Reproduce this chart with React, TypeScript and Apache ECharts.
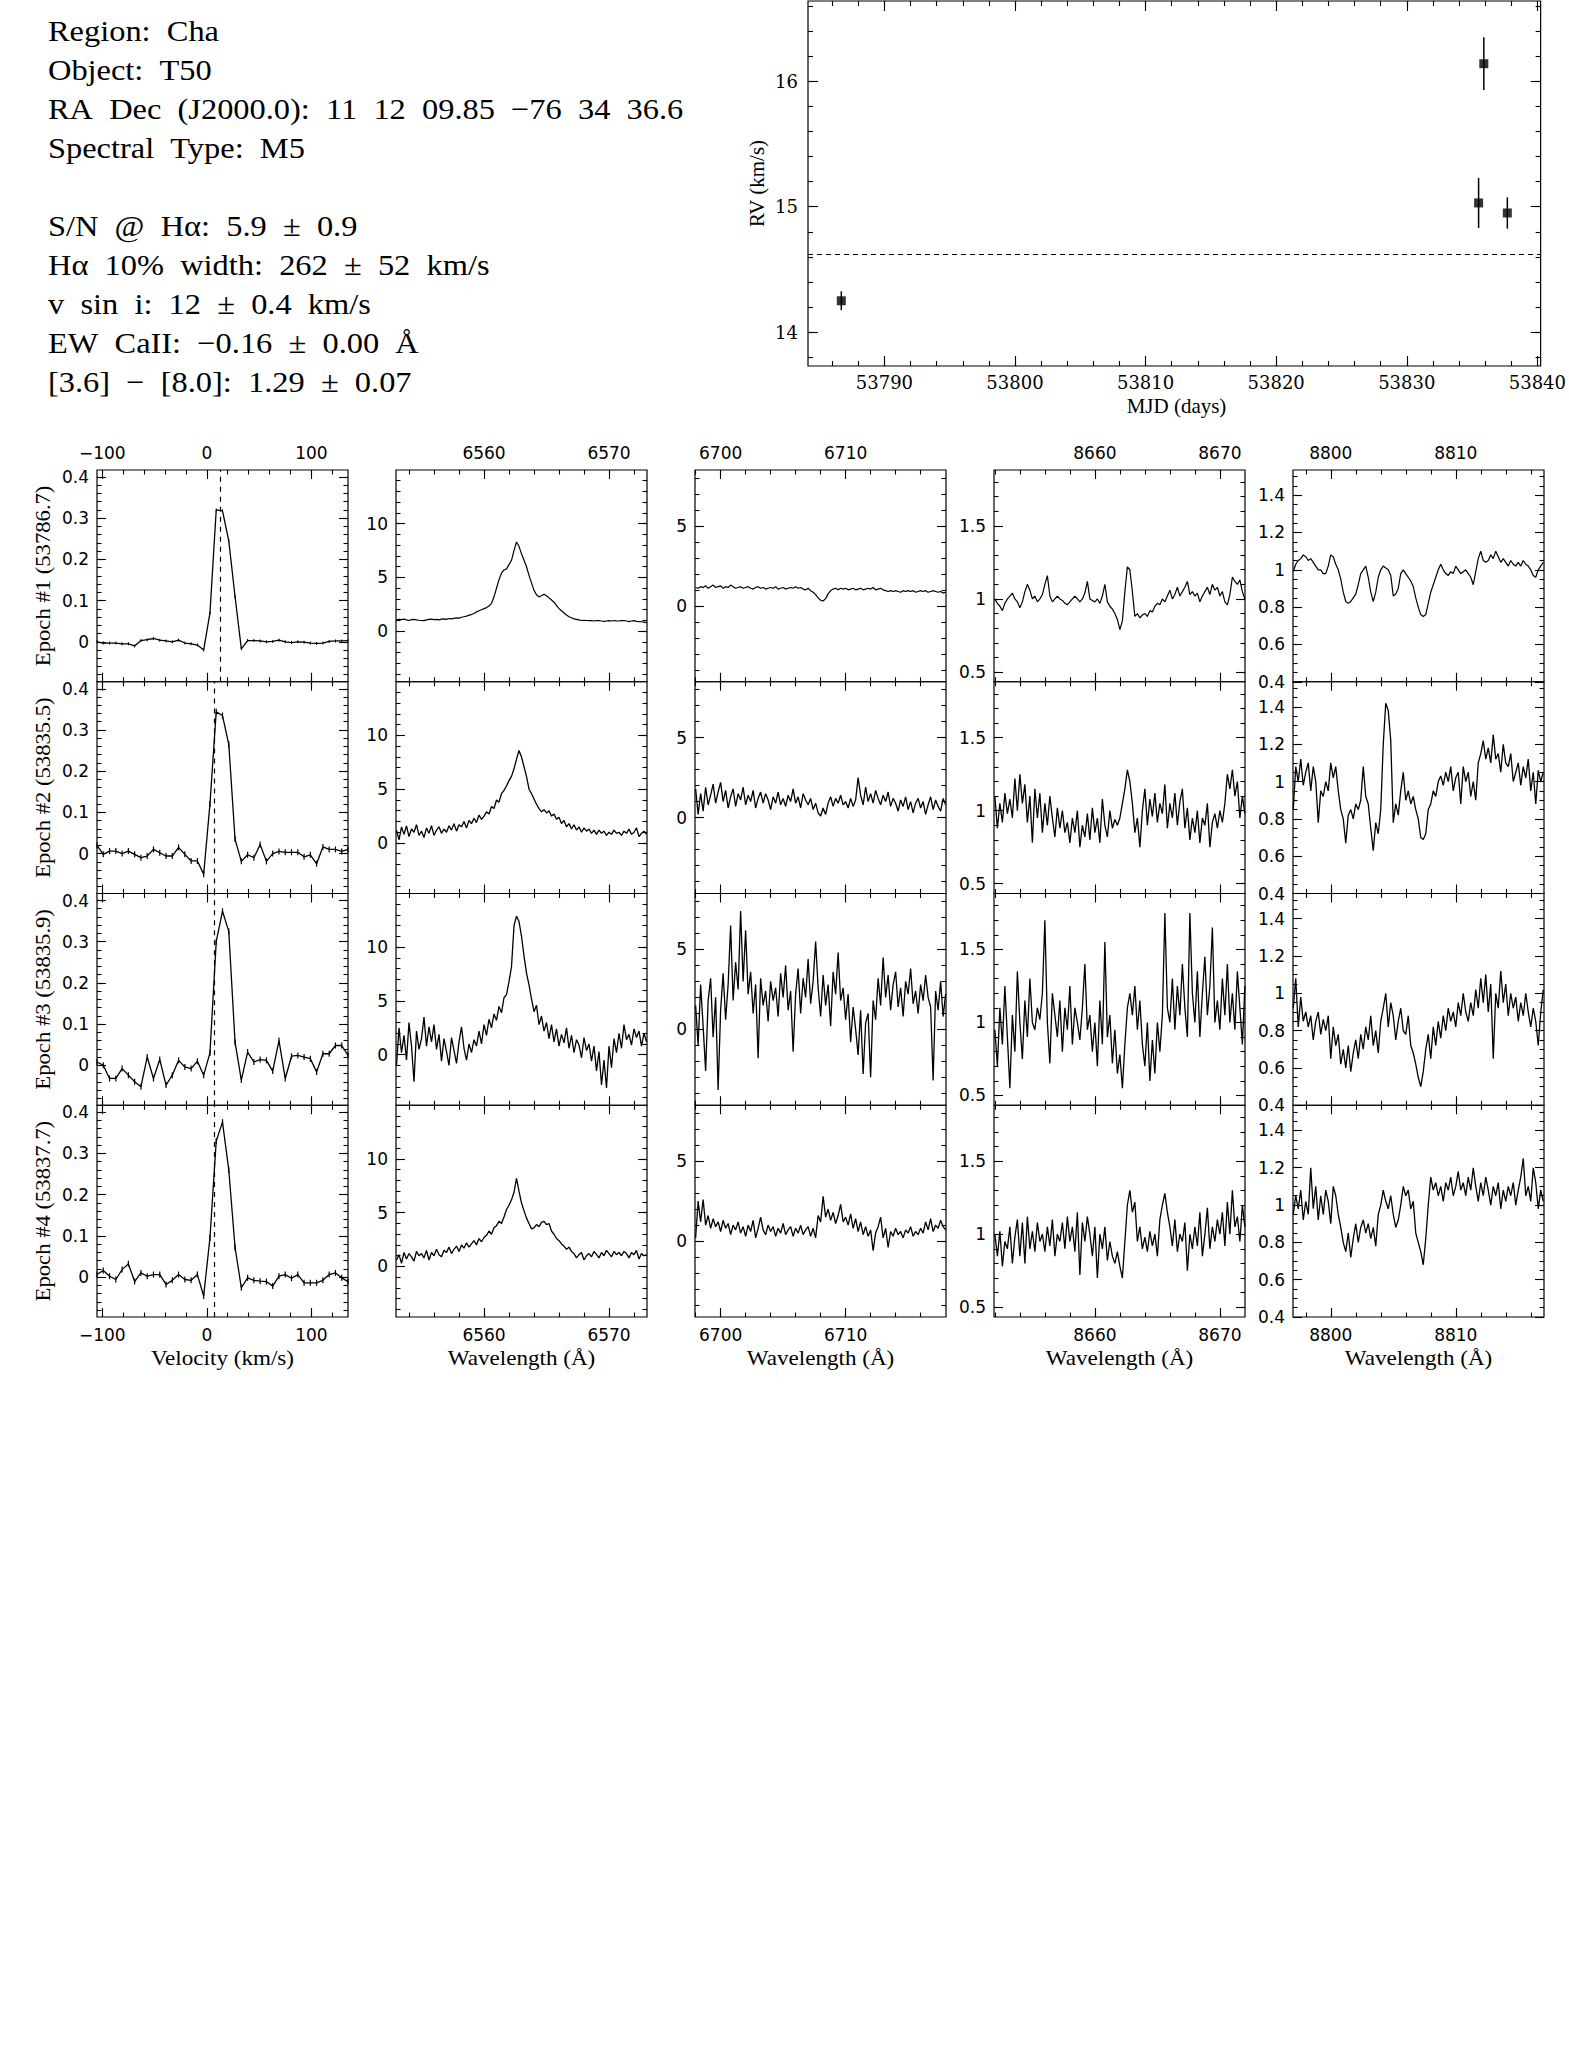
import React, { useEffect, useRef } from 'react';
import * as echarts from 'echarts';

// ---------------- header text ----------------
const INFO_LINES = [
  'Region: Cha',
  'Object: T50',
  'RA Dec (J2000.0): 11 12 09.85 \u221276 34 36.6',
  'Spectral Type: M5',
  '',
  'S/N @ H\u03b1: 5.9 \u00b1 0.9',
  'H\u03b1 10% width: 262 \u00b1 52 km/s',
  'v sin i: 12 \u00b1 0.4 km/s',
  'EW CaII: \u22120.16 \u00b1 0.00 \u00c5',
  '[3.6] \u2212 [8.0]: 1.29 \u00b1 0.07',
];

// ---------------- RV panel ----------------
const RV_MJD = [53786.7, 53835.5, 53835.9, 53837.7];
const RV_KMS = [14.25, 15.03, 16.14, 14.95];
const RV_ERR = [0.075, 0.2, 0.21, 0.125];
const RV_MEAN = 14.62;
const RV_X_TICKS = [53790, 53800, 53810, 53820, 53830, 53840];
const RV_Y_TICKS = [14, 15, 16];

// ---------------- epochs ----------------
const EPOCH_LABELS = ['Epoch #1 (53786.7)', 'Epoch #2 (53835.5)', 'Epoch #3 (53835.9)', 'Epoch #4 (53837.7)'];

// velocity profile (column 1)
const VELOCITY = [-105, -99, -93, -87, -81, -75, -69, -63, -57, -51, -45, -39, -33, -27, -21, -15, -9, -3, 3, 9, 15,
  21, 27, 33, 39, 45, 51, 57, 63, 69, 75, 81, 87, 93, 99, 105, 111, 117, 123, 129, 135];
const CCF_1 = [0.0, -0.003, -0.003, -0.003, -0.005, -0.005, -0.01, 0.003, 0.005, 0.008, 0.004, 0.002, 0.0, 0.004, -0.003,
  -0.005, -0.008, -0.02, 0.07, 0.32, 0.318, 0.245, 0.11, -0.017, 0.003, 0.003, 0.002, 0.0, 0.001, 0.004, 0.0, -0.002, 0.0,
  -0.001, -0.003, -0.004, -0.003, 0.001, 0.002, 0.002, 0.003];
const CCF_2 = [0.02, -0.002, 0.006, 0.006, 0.0, 0.006, -0.002, -0.01, -0.006, 0.01, 0.002, -0.006, -0.006, 0.015, -0.002,
  -0.018, -0.018, -0.05, 0.12, 0.344, 0.335, 0.265, 0.035, -0.019, -0.003, -0.01, 0.022, -0.019, 0.0, 0.005, 0.003, 0.003,
  0.003, -0.008, -0.003, -0.025, 0.016, 0.01, 0.01, 0.005, 0.01];
const CCF_3 = [0.008, 0.0, -0.032, -0.032, -0.008, -0.024, -0.04, -0.052, 0.02, -0.032, 0.014, -0.048, -0.024, 0.012,
  -0.004, -0.008, 0.01, -0.024, 0.03, 0.3, 0.374, 0.325, 0.056, -0.036, 0.032, 0.008, 0.014, 0.012, -0.014, 0.06, -0.032,
  0.022, 0.024, 0.02, 0.016, -0.016, 0.028, 0.028, 0.048, 0.048, 0.024];
const CCF_4 = [0.006, 0.016, 0.002, -0.006, 0.018, 0.032, -0.011, 0.01, 0.002, 0.006, 0.006, -0.018, -0.008, 0.006,
  -0.006, -0.008, 0.006, -0.046, 0.095, 0.33, 0.376, 0.26, 0.072, -0.026, -0.002, -0.008, -0.01, -0.011, -0.022, 0.002,
  0.006, -0.003, 0.006, -0.014, -0.014, -0.014, -0.008, 0.006, 0.01, -0.002, -0.011];
const CCF_CENTER = [12.5, 7.4, 7.4, 6.8];

// spectra: linear dispersion, start wavelength per window
const WL_START = [6553, 6698, 8652, 8797];
const WL_STEP = 0.2;

const HA_1 = [1.05, 1.1, 1.08, 1.12, 1.05, 1.0, 1.08, 1.1, 1.05, 1.02,
  1.0, 0.98, 1.05, 1.1, 1.12, 1.08, 1.1, 1.05, 1.12, 1.15,
  1.1, 1.18, 1.15, 1.2, 1.25, 1.22, 1.3, 1.35, 1.4, 1.5,
  1.55, 1.65, 1.8, 1.9, 2.0, 2.1, 2.2, 2.35, 2.6, 3.2,
  4.0, 4.8, 5.4, 5.7, 5.8, 6.2, 6.6, 7.5, 8.3, 7.9,
  7.2, 6.6, 6.0, 5.2, 4.5, 3.8, 3.4, 3.2, 3.3, 3.45,
  3.3, 3.1, 2.9, 2.7, 2.4, 2.1, 1.9, 1.7, 1.5, 1.35,
  1.25, 1.15, 1.1, 1.05, 1.0, 1.02, 1.0, 0.98, 1.0, 0.95,
  0.98, 1.0, 0.95, 0.92, 0.95, 0.98, 0.95, 1.0, 0.97, 0.95,
  0.98, 1.0, 0.95, 0.9, 0.95, 0.98, 0.92, 0.9, 0.88, 0.85, 0.8];
const HA_2 = [1.2, 0.3, 1.5, 0.8, 1.6, 0.6, 1.3, 1.0, 1.7, 0.7,
  1.1, 0.5, 1.4, 0.9, 1.6, 0.7, 1.2, 1.5, 0.9, 1.3,
  1.0, 1.6, 1.2, 1.8, 1.1, 1.7, 1.5, 2.0, 1.4, 2.1,
  1.8, 2.3, 1.9, 2.6, 2.2, 2.5, 2.9, 2.7, 3.4, 3.2,
  4.0, 3.8, 4.6, 4.9, 5.3, 5.8, 6.2, 6.9, 7.8, 8.6,
  8.0, 7.1, 6.2, 5.0, 4.6, 4.1, 3.6, 3.2, 2.9, 3.1,
  2.8, 3.0, 2.5, 2.7, 2.2, 2.4, 1.8, 2.1, 1.5, 1.8,
  1.3, 1.7, 1.2, 1.5, 1.0, 1.4, 1.1, 1.3, 0.9, 1.2,
  0.8, 1.2, 0.9, 1.1, 0.7, 1.0, 0.8, 1.2, 0.9, 1.0,
  0.7, 1.1, 0.9, 1.3, 0.8, 1.0, 1.4, 0.6, 0.9, 1.1, 0.8];
const HA_3 = [-1.0, 2.5, 0.2, 1.8, -0.5, 3.0, 0.8, -2.5, 2.2, 0.5,
  1.5, 3.5, 0.8, 2.6, 1.2, 2.8, 0.5, 1.9, -0.6, 1.5,
  0.3, -1.0, 1.6, 0.4, -0.8, 1.2, 2.6, 0.6, -0.5, 1.0,
  0.2, 1.4, 0.8, 2.2, 1.0, 2.8, 1.8, 3.3, 2.5, 3.8,
  3.2, 4.5, 3.9, 5.3, 5.6, 6.8, 8.2, 12.0, 12.9, 12.4,
  11.0, 9.2, 7.6, 6.5, 5.2, 4.0, 4.6, 2.8, 3.6, 2.2,
  3.0, 1.5, 2.8, 1.2, 2.4, 0.8, 1.9, 1.1, 2.5, 0.6,
  1.8, 0.2, 1.4, 0.9, -0.3, 1.6, 0.4, 1.0, -0.6, 0.8,
  -1.5, 0.3, -2.8, -0.5, -3.1, 0.8, -1.2, 1.5, 0.2, 2.0,
  0.6, 2.8, 1.4, 1.9, 0.9, 2.4, 1.6, 2.2, 0.8, 2.0, 1.2];
const HA_4 = [0.6, 1.1, 0.3, 1.3, 0.7, 1.2, 0.9, 0.5, 1.4, 1.0,
  1.2, 0.8, 1.5, 0.6, 1.3, 1.0, 1.6, 1.1, 0.9, 1.5,
  1.3, 1.8, 1.2, 1.6, 1.9, 1.4, 2.0, 1.7, 2.2, 1.8,
  2.1, 2.4, 2.0, 2.6, 2.3, 2.7, 2.9, 3.3, 3.0, 3.6,
  3.8, 4.2, 4.0, 4.6, 5.3, 5.7, 6.2, 6.9, 8.2, 7.0,
  5.9, 5.2, 4.5, 4.0, 3.5, 3.6, 3.9, 3.7, 4.1, 4.2,
  3.9, 4.0, 3.3, 3.0, 2.6, 2.4, 2.1, 1.9, 1.6, 1.8,
  1.4, 1.2, 0.8, 1.1, 1.3, 0.6, 1.0, 1.2, 0.9, 1.4,
  1.1, 0.8, 1.3, 1.0, 1.5, 1.2, 0.9, 1.4, 1.1, 1.3,
  1.0, 1.4, 1.2, 0.8, 1.3, 1.1, 1.5, 0.7, 1.2, 1.0, 1.1];

const LI_1 = [1.15, 1.1, 1.2, 1.15, 1.25, 1.1, 1.2, 1.3, 1.15, 1.2,
  1.25, 1.1, 1.2, 1.15, 1.3, 1.2, 1.1, 1.15, 1.2, 1.1,
  1.15, 1.2, 1.1, 1.05, 1.15, 1.2, 1.1, 1.15, 1.05, 1.1,
  1.15, 1.1, 1.2, 1.05, 1.1, 1.15, 1.05, 1.1, 1.15, 1.1,
  1.2, 1.1, 1.15, 1.05, 1.0, 1.1, 0.95, 0.85, 0.7, 0.5,
  0.35, 0.3, 0.45, 0.75, 0.95, 1.05, 1.1, 1.0, 1.1, 1.05,
  1.1, 1.0, 1.05, 1.1, 1.0, 1.05, 1.1, 1.0, 1.05, 1.1,
  1.05, 1.15, 1.0, 1.05, 1.1, 1.0, 0.95, 0.9, 0.95, 0.9,
  0.95, 0.9, 0.85, 0.95, 0.9, 0.95, 0.9, 0.95, 0.85, 0.9,
  0.95, 0.9, 0.95, 0.85, 0.9, 0.95, 0.9, 0.85, 0.9, 0.8, 0.85];
const LI_2 = [1.8, 0.2, 1.5, 0.4, 1.9, 0.8, 1.4, 2.1, 0.9, 1.6,
  2.2, 1.0, 1.7, 0.6, 1.3, 1.8, 0.7, 1.5, 1.1, 1.9,
  0.8, 1.4, 1.0, 1.7, 0.6, 1.2, 1.6, 0.9, 1.5, 1.1,
  0.5, 1.3, 0.9, 1.6, 0.8, 1.2, 0.7, 1.4, 1.0, 1.8,
  0.9, 1.3, 0.6, 1.5, 1.1, 0.8, 1.2, 0.5, 0.9, 0.3,
  0.1, 0.6, 0.2, 0.9, 1.3, 0.7, 1.2, 0.9, 1.4, 0.8,
  1.0, 0.6, 1.2, 0.7, 1.1, 2.5, 1.4, 0.8, 1.9, 1.0,
  1.5, 0.9, 1.7, 1.2, 0.8, 1.4, 1.0, 1.6, 0.7, 1.2,
  0.9, 0.4, 1.1, 0.7, 1.3, 0.5, 1.0, 0.3, 0.9, 1.2,
  0.6, 1.0, 0.2, 0.8, 1.3, 0.5, 1.1, 0.7, 0.4, 1.2, 0.8];
const LI_3 = [1.5, -1.0, 2.8, 0.2, -2.6, 1.8, 3.2, -0.5, 2.0, -3.8,
  1.2, 3.5, 0.6, 2.8, 6.5, 1.8, 4.2, 2.5, 7.4, 3.0,
  6.2, 2.2, 3.6, 1.0, 2.8, -1.8, 3.2, 1.5, 2.4, 0.5,
  3.0, 1.8, 2.6, 0.8, 3.5, 2.0, 4.0, 1.2, 2.4, -1.4,
  2.2, 3.8, 1.0, 3.2, 2.0, 4.4, 1.6, 3.0, 5.5, 2.6,
  0.8, 3.4, 1.5, 2.8, 0.2, 3.6, 2.2, 4.8, 1.8, 2.6,
  0.6, 2.2, -0.8, 1.4, 0.0, -1.6, 1.2, -2.8, 0.4, 1.0,
  -3.0, 1.8, 0.6, 3.2, 1.5, 4.5, 2.0, 3.4, 1.2, 2.8,
  3.6, 1.4, 2.6, 0.8, 3.0, 2.2, 3.8, 1.6, 2.4, 1.0,
  2.8, 1.8, 3.4, 2.0, 1.4, -3.2, 2.4, 1.2, 3.0, 0.8, 2.2];
const LI_4 = [0.2, 2.5, 1.2, 2.6, 1.0, 1.6, 0.8, 1.4, 0.9, 1.2,
  0.6, 1.3, 0.8, 1.1, 0.4, 1.0, 0.7, 1.2, 0.5, 0.9,
  0.3, 1.0, 0.6, 1.3, 0.2, 0.8, 1.5, 0.7, 0.4, 1.0,
  0.6, 0.9, 0.3, 0.8, 0.5, 1.1, 0.4, 0.7, 0.9, 0.3,
  0.8, 0.5, 1.0, 0.4, 0.7, 0.9, 0.3, 0.8, 0.2, 1.6,
  1.2, 2.8, 1.5, 2.0, 1.3, 1.8, 1.1, 1.6, 2.3, 1.2,
  1.5, 1.0, 1.7, 0.8, 1.4, 0.6, 1.2, 0.4, 0.9, 0.3,
  0.7, -0.6, 0.5, 0.9, 1.5, 0.2, 0.8, -0.4, 0.6, 0.3,
  0.8, 0.4, 0.6, 0.2, 0.7, 0.5, 0.9, 0.3, 0.6, 0.4,
  0.8, 0.5, 1.2, 0.7, 1.4, 0.6, 1.0, 0.8, 1.3, 0.9, 0.7];

const CA_1 = [1.0, 0.97, 0.95, 0.92, 0.97, 1.0, 1.02, 1.04, 1.0, 0.98,
  0.94, 0.98, 1.05, 1.1, 1.06, 1.0, 1.02, 0.98, 1.0, 1.03,
  1.1, 1.16, 1.02, 0.98, 1.0, 1.02, 1.0, 0.99, 0.97, 0.96,
  0.98, 1.0, 1.02, 1.0, 0.98, 1.0, 1.04, 1.12, 1.0, 0.99,
  0.98, 1.0, 0.97, 1.02, 1.1, 0.98, 0.95, 0.93, 0.9, 0.86,
  0.79, 0.85, 1.05, 1.22, 1.2, 1.05, 0.88, 0.9, 0.87, 0.89,
  0.9, 0.88, 0.92, 0.91, 0.95, 0.97, 0.96, 1.0, 0.98, 1.02,
  1.06, 1.0, 1.03, 1.08, 1.02, 1.05, 1.08, 1.12, 1.03, 1.05,
  1.02, 1.04, 0.98, 1.02, 1.05, 1.08, 1.03, 1.1, 1.06, 1.08,
  1.02, 1.05, 0.98, 0.96, 1.03, 1.15, 1.12, 1.1, 1.13, 1.05, 1.0];
const CA_2 = [1.1, 0.88, 1.05, 0.92, 1.12, 0.98, 1.08, 0.95, 1.22, 1.0,
  1.25, 1.05, 1.18, 0.92, 1.1, 0.78, 1.15, 0.95, 1.12, 0.85,
  1.05, 0.9, 1.1, 0.95, 0.82, 1.02, 0.88, 1.0, 0.85, 0.92,
  0.78, 0.95, 0.85, 1.0, 0.75, 0.9, 0.82, 0.98, 0.8, 1.02,
  0.85, 0.95, 0.78, 1.08, 0.9, 0.82, 1.0, 0.88, 0.94, 0.9,
  0.95, 1.05, 1.15, 1.28, 1.2, 1.05, 0.85, 0.95, 0.75, 1.0,
  1.15, 0.9, 1.08, 0.96, 1.12, 0.92, 1.05, 0.98, 1.18, 0.88,
  1.05, 0.95, 1.12, 0.9, 1.06, 1.15, 0.88, 1.02, 0.8, 0.95,
  0.85, 1.0, 0.78, 0.95, 0.9, 1.05, 0.75, 0.92, 0.98, 0.88,
  1.0, 0.92, 1.05, 1.25, 1.15, 1.28, 1.1, 1.2, 0.95, 1.1, 0.98];
const CA_3 = [0.95, 0.7, 1.1, 0.85, 1.25, 0.9, 0.55, 1.05, 0.8, 1.35,
  1.0, 0.75, 1.15, 0.9, 1.3, 1.0, 0.95, 1.1, 1.02, 1.2,
  1.7, 1.0, 0.72, 1.2, 1.05, 0.9, 1.15, 0.8, 1.1, 0.95,
  1.25, 0.85, 1.1, 1.0, 0.88, 1.1, 1.4, 0.95, 1.05, 0.8,
  1.0, 0.7, 1.15, 0.85, 1.55, 0.9, 1.05, 0.72, 0.95, 0.65,
  0.78, 0.55, 0.85, 1.1, 1.2, 1.05, 1.25, 0.95, 1.15, 0.85,
  0.7, 1.0, 0.6, 0.88, 0.65, 1.0, 0.8, 1.05, 1.75, 1.1,
  1.0, 1.3, 0.95, 1.25, 1.05, 1.4, 1.1, 0.9, 1.75, 1.2,
  1.0, 1.35, 0.9, 1.2, 1.45, 1.05, 1.25, 1.65, 1.0, 1.15,
  0.95, 1.3, 1.05, 1.4, 1.0, 1.2, 0.95, 1.35, 1.1, 0.85, 1.25];
const CA_4 = [1.0, 0.85, 1.02, 0.78, 0.95, 0.9, 1.05, 0.8, 0.98, 1.1,
  0.85, 1.08, 0.8, 1.12, 0.9, 1.02, 0.88, 1.08, 0.95, 1.0,
  0.88, 1.05, 0.92, 1.1, 0.85, 1.0, 0.95, 1.08, 0.9, 1.12,
  0.95, 1.05, 0.88, 1.15, 0.72, 1.08, 0.95, 1.12, 1.0, 0.85,
  1.05, 0.7, 1.0, 0.9, 1.05, 0.82, 0.95, 0.85, 0.8, 0.88,
  0.78, 0.7, 0.95, 1.2, 1.3, 1.15, 1.22, 0.95, 1.05, 0.9,
  0.98, 0.88, 1.02, 0.92, 1.0, 0.85, 1.1, 1.2, 1.28, 1.15,
  1.05, 0.92, 1.1, 0.88, 1.0, 0.95, 1.08, 0.75, 1.0, 0.9,
  1.05, 0.92, 1.15, 0.85, 1.0, 1.18, 0.9, 1.05, 0.95, 1.1,
  1.0, 1.15, 0.92, 1.22, 1.0, 1.3, 1.05, 1.12, 0.95, 1.2, 1.05];

const CB_1 = [0.99, 1.03, 1.05, 1.06, 1.08, 1.07, 1.05, 1.06, 1.04, 1.02,
  1.0, 1.0, 0.98, 0.98, 1.02, 1.08, 1.07, 1.03, 1.0, 0.95,
  0.88, 0.83, 0.82, 0.83, 0.85, 0.87, 0.92, 0.98, 1.0, 1.02,
  0.96, 0.88, 0.83, 0.88, 0.96, 1.0, 1.02, 1.01, 1.0, 0.97,
  0.86, 0.87, 0.9, 0.98, 1.0, 0.98, 0.96, 0.94, 0.91, 0.85,
  0.8, 0.76, 0.75, 0.76, 0.82, 0.88, 0.92, 0.96, 1.0, 1.03,
  1.0, 0.98, 0.97, 0.99, 0.98, 1.02, 1.0, 0.98, 0.99, 1.0,
  0.98, 0.96, 0.92, 0.99, 1.06, 1.1, 1.05, 1.04, 1.05, 1.08,
  1.06, 1.1, 1.07, 1.04, 1.06, 1.04, 1.02, 1.05, 1.03, 1.02,
  1.04, 1.02, 1.05, 1.03, 1.02, 1.0, 0.97, 0.96, 1.0, 1.02, 1.04];
const CB_2 = [0.85, 1.08, 1.0, 1.12, 0.98, 1.05, 1.1, 0.95, 1.08, 1.0,
  0.78, 0.95, 0.92, 1.0, 0.95, 1.1, 1.02, 1.08, 0.95, 0.85,
  0.8, 0.67, 0.82, 0.85, 0.8, 0.88, 0.85, 0.9, 1.08, 0.92,
  0.88, 0.75, 0.63, 0.78, 0.72, 0.85, 1.2, 1.42, 1.38, 1.22,
  0.78, 0.88, 0.82, 0.95, 1.05, 0.9, 0.95, 0.88, 0.92, 0.85,
  0.8, 0.7, 0.69, 0.72, 0.85, 0.88, 0.95, 0.92, 1.0, 1.03,
  0.98, 1.05, 1.0, 1.08, 0.95, 1.02, 1.05, 0.88, 1.08, 1.0,
  1.05, 0.92, 1.0, 0.9, 1.1, 1.15, 1.22, 1.12, 1.18, 1.1,
  1.25, 1.12, 1.15, 1.05, 1.2, 1.1, 1.08, 1.15, 1.0, 1.05,
  1.1, 0.98, 1.08, 1.02, 1.12, 0.95, 1.05, 0.88, 1.06, 1.0, 1.05];
const CB_3 = [0.92, 1.08, 0.82, 0.98, 0.85, 0.9, 0.82, 0.88, 0.75, 0.85,
  0.9, 0.78, 0.86, 0.8, 0.88, 0.65, 0.82, 0.72, 0.78, 0.62,
  0.7, 0.6, 0.72, 0.58, 0.68, 0.75, 0.65, 0.78, 0.7, 0.82,
  0.75, 0.88, 0.72, 0.8, 0.68, 0.85, 0.92, 1.0, 0.82, 0.95,
  0.88, 0.75, 0.85, 0.92, 0.8, 0.78, 0.88, 0.72, 0.68, 0.62,
  0.55, 0.5, 0.58, 0.7, 0.78, 0.65, 0.82, 0.72, 0.85, 0.76,
  0.88, 0.8, 0.92, 0.85, 0.9, 0.82, 0.95, 0.88, 1.0, 0.9,
  0.85, 0.95, 0.88, 1.02, 0.92, 1.08, 0.95, 1.1, 0.9, 1.05,
  0.65, 1.0, 0.92, 1.12, 0.95, 1.05, 0.88, 1.0, 0.92, 0.98,
  0.85, 0.95, 0.88, 1.0, 0.9, 0.82, 0.92, 0.85, 0.72, 0.9, 1.02];
const CB_4 = [0.95, 1.05, 0.98, 1.08, 0.92, 1.02, 0.95, 1.2, 0.98, 1.1,
  0.92, 1.05, 0.95, 1.08, 1.02, 0.9, 1.1, 1.05, 0.95, 0.88,
  0.8, 0.75, 0.85, 0.72, 0.82, 0.9, 0.8, 0.88, 0.92, 0.85,
  0.9, 0.82, 0.88, 0.78, 0.95, 1.0, 1.08, 1.02, 0.98, 1.05,
  0.95, 0.88, 0.92, 1.0, 1.1, 1.05, 1.08, 0.98, 1.02, 0.85,
  0.8, 0.75, 0.68, 0.82, 1.0, 1.15, 1.08, 1.12, 1.05, 1.1,
  1.02, 1.12, 1.08, 1.15, 1.05, 1.1, 1.18, 1.08, 1.12, 1.05,
  1.15, 1.08, 1.2, 1.1, 1.02, 1.12, 1.05, 1.15, 1.08, 1.0,
  1.1, 1.05, 1.12, 0.98, 1.08, 1.02, 1.1, 1.05, 1.12, 1.0,
  1.08, 1.15, 1.25, 1.05, 1.1, 1.02, 1.2, 1.12, 0.98, 1.08, 1.02];

// tick labels
const VEL_TICKS = [-100, 0, 100];
const HA_TICKS = [6560, 6570];
const LI_TICKS = [6700, 6710];
const CA_TICKS = [8660, 8670];
const CB_TICKS = [8800, 8810];
const CCF_Y_TICKS = [0, 0.1, 0.2, 0.3, 0.4];
const HA_Y_TICKS = [0, 5, 10];
const LI_Y_TICKS = [0, 5];
const CA_Y_TICKS = [0.5, 1, 1.5];
const CB_Y_TICKS = [0.4, 0.6, 0.8, 1, 1.2, 1.4];
const X_TITLES = ['Velocity (km/s)', 'Wavelength (\u00c5)', 'Wavelength (\u00c5)', 'Wavelength (\u00c5)', 'Wavelength (\u00c5)'];

// ---------------- layout ----------------
const PANEL_LEFT = [97, 396, 695, 994, 1293];
const PANEL_W = 251;
const PANEL_TOP = 470;
const PANEL_H = 211.75;
const RV_BOX = { left: 808, top: 1, width: 737, height: 365 };
const TICK_FONT = 'DejaVu Sans';
const SERIF = 'Liberation Serif';

function fmt(v: number): string {
  const r = Math.round(v * 1000) / 1000;
  const s = String(Math.abs(r));
  return r < 0 ? '\u2212' + s : s;
}
function seq(a: number, b: number, step: number): number[] {
  const n = Math.round((b - a) / step);
  const out: number[] = [];
  for (let k = 0; k <= n; k++) out.push(Math.round((a + k * step) * 1e6) / 1e6);
  return out;
}

function buildOption() {
  const grids: any[] = [];
  const xAxes: any[] = [];
  const yAxes: any[] = [];
  const series: any[] = [];
  const graphics: any[] = [];

  const addAxis = (kind: 'x' | 'y', gridIndex: number, position: string, min: number, max: number,
    values: number[], len: number, label: any) => {
    const ax: any = {
      type: 'value', gridIndex, position, min, max,
      axisLine: { show: false, onZero: false },
      axisTick: { show: true, inside: true, length: len, customValues: values, lineStyle: { color: '#000', width: 1.1 } },
      splitLine: { show: false },
      minorTick: { show: false },
      axisPointer: { show: false },
      axisLabel: label
        ? Object.assign({
          show: true, customValues: values, formatter: (v: number) => fmt(v), color: '#000',
          rotate: 0, hideOverlap: false, overflow: 'none',
        }, label)
        : { show: false },
    };
    const arr = kind === 'x' ? xAxes : yAxes;
    arr.push(ax);
    return arr.length - 1;
  };

  const addBox = (left: number, top: number, width: number, height: number) => {
    grids.push({ left, top, width, height, show: true, borderColor: '#000', borderWidth: 1.2, backgroundColor: 'transparent' });
    return grids.length - 1;
  };

  // ---- RV panel ----
  {
    const gi = addBox(RV_BOX.left, RV_BOX.top, RV_BOX.width, RV_BOX.height);
    const xmin = 53784.15, xmax = 53840.25, ymin = 13.73, ymax = 16.64;
    const lab = { fontFamily: 'DejaVu Serif', fontSize: 18, margin: 7 };
    const xb = addAxis('x', gi, 'bottom', xmin, xmax, RV_X_TICKS, 10, lab);
    addAxis('x', gi, 'bottom', xmin, xmax, seq(53786, 53838, 2), 5, null);
    addAxis('x', gi, 'top', xmin, xmax, RV_X_TICKS, 10, null);
    addAxis('x', gi, 'top', xmin, xmax, seq(53786, 53838, 2), 5, null);
    const yl = addAxis('y', gi, 'left', ymin, ymax, RV_Y_TICKS, 10, { fontFamily: 'DejaVu Serif', fontSize: 18, margin: 10 });
    addAxis('y', gi, 'left', ymin, ymax, seq(13.8, 16.6, 0.2), 5, null);
    addAxis('y', gi, 'right', ymin, ymax, RV_Y_TICKS, 10, null);
    addAxis('y', gi, 'right', ymin, ymax, seq(13.8, 16.6, 0.2), 5, null);
    series.push({
      type: 'custom', xAxisIndex: xb, yAxisIndex: yl, silent: true,
      data: RV_MJD.map((m, i) => [m, RV_KMS[i], RV_ERR[i]]),
      encode: { x: 0, y: 1 },
      renderItem: (_p: any, api: any) => {
        const x = api.value(0), y = api.value(1), e = api.value(2);
        const a = api.coord([x, y - e]);
        const b = api.coord([x, y + e]);
        return { type: 'line', shape: { x1: a[0], y1: a[1], x2: b[0], y2: b[1] }, style: { stroke: '#000', lineWidth: 1.5 } };
      },
    });
    series.push({
      type: 'scatter', xAxisIndex: xb, yAxisIndex: yl, silent: true,
      data: RV_MJD.map((m, i) => [m, RV_KMS[i]]),
      symbol: 'rect', symbolSize: 9, itemStyle: { color: '#000' },
      markLine: {
        silent: true, symbol: ['none', 'none'], label: { show: false },
        lineStyle: { type: [5, 4], color: '#000', width: 1.2 },
        data: [{ yAxis: RV_MEAN }],
      },
    });
    graphics.push({
      type: 'text', x: (RV_BOX.left + RV_BOX.left + RV_BOX.width) / 2, y: 406,
      style: { text: 'MJD (days)', fontFamily: SERIF, fontSize: 21, fill: '#000', textAlign: 'center', textVerticalAlign: 'middle', align: 'center', verticalAlign: 'middle' },
    });
    graphics.push({
      type: 'text', x: 757, y: RV_BOX.top + RV_BOX.height / 2, rotation: Math.PI / 2,
      style: { text: 'RV (km/s)', fontFamily: SERIF, fontSize: 21, fill: '#000', textAlign: 'center', textVerticalAlign: 'middle', align: 'center', verticalAlign: 'middle' },
    });
  }

  // ---- spectral grid ----
  const cols = [
    { xmin: -105, xmax: 135, xMaj: VEL_TICKS, xMin: seq(-100, 120, 20), ymin: -0.097, ymax: 0.417, yMaj: CCF_Y_TICKS, yMin: seq(-0.08, 0.4, 0.02), data: [CCF_1, CCF_2, CCF_3, CCF_4] },
    { xmin: 6552.96, xmax: 6573.04, xMaj: HA_TICKS, xMin: seq(6554, 6572, 2), ymin: -4.7, ymax: 15, yMaj: HA_Y_TICKS, yMin: seq(-4, 14, 1), data: [HA_1, HA_2, HA_3, HA_4] },
    { xmin: 6697.95, xmax: 6718.03, xMaj: LI_TICKS, xMin: seq(6698, 6716, 2), ymin: -4.75, ymax: 8.5, yMaj: LI_Y_TICKS, yMin: seq(-4, 8, 1), data: [LI_1, LI_2, LI_3, LI_4] },
    { xmin: 8651.93, xmax: 8672.01, xMaj: CA_TICKS, xMin: seq(8652, 8670, 2), ymin: 0.433, ymax: 1.883, yMaj: CA_Y_TICKS, yMin: seq(0.5, 1.8, 0.1), data: [CA_1, CA_2, CA_3, CA_4] },
    { xmin: 8796.98, xmax: 8817.06, xMaj: CB_TICKS, xMin: seq(8798, 8816, 2), ymin: 0.4, ymax: 1.535, yMaj: CB_Y_TICKS, yMin: seq(0.45, 1.5, 0.05), data: [CB_1, CB_2, CB_3, CB_4] },
  ];

  const tickLab = { fontFamily: TICK_FONT, fontSize: 17, margin: 9 };
  cols.forEach((col, c) => {
    for (let r = 0; r < 4; r++) {
      const top = PANEL_TOP + r * PANEL_H;
      const gi = addBox(PANEL_LEFT[c], top, PANEL_W, PANEL_H);
      const xb = addAxis('x', gi, 'bottom', col.xmin, col.xmax, col.xMaj, 9, r === 3 ? tickLab : null);
      addAxis('x', gi, 'bottom', col.xmin, col.xmax, col.xMin, 4.5, null);
      addAxis('x', gi, 'top', col.xmin, col.xmax, col.xMaj, 9, r === 0 ? tickLab : null);
      addAxis('x', gi, 'top', col.xmin, col.xmax, col.xMin, 4.5, null);
      const yl = addAxis('y', gi, 'left', col.ymin, col.ymax, col.yMaj, 9, { fontFamily: TICK_FONT, fontSize: 17, margin: 8 });
      addAxis('y', gi, 'left', col.ymin, col.ymax, col.yMin, 4.5, null);
      addAxis('y', gi, 'right', col.ymin, col.ymax, col.yMaj, 9, null);
      addAxis('y', gi, 'right', col.ymin, col.ymax, col.yMin, 4.5, null);

      const vals = col.data[r];
      if (c === 0) {
        series.push({
          type: 'line', xAxisIndex: xb, yAxisIndex: yl, silent: true,
          data: vals.map((v, i) => [VELOCITY[i], v]),
          showSymbol: true, symbol: 'rect', symbolSize: r === 0 ? [1, 3] : [1.2, 6],
          itemStyle: { color: '#000' },
          lineStyle: { color: '#000', width: 1.3 },
          markLine: {
            silent: true, symbol: ['none', 'none'], label: { show: false },
            lineStyle: { type: [5, 5], color: '#000', width: 1.2 },
            data: [{ xAxis: CCF_CENTER[r] }],
          },
        });
      } else {
        const start = WL_START[c - 1];
        series.push({
          type: 'line', xAxisIndex: xb, yAxisIndex: yl, silent: true,
          data: vals.map((v, i) => [start + i * WL_STEP, v]),
          showSymbol: false, symbol: 'none',
          lineStyle: { color: '#000', width: r === 0 ? 1.2 : 1.3 },
        });
      }
    }
    graphics.push({
      type: 'text', x: PANEL_LEFT[c] + PANEL_W / 2, y: 1358, scaleX: 1.05,
      style: { text: X_TITLES[c], fontFamily: SERIF, fontSize: 22, fill: '#000', textAlign: 'center', textVerticalAlign: 'middle', align: 'center', verticalAlign: 'middle' },
    });
  });

  EPOCH_LABELS.forEach((t, r) => {
    graphics.push({
      type: 'text', x: 43, y: PANEL_TOP + r * PANEL_H + PANEL_H / 2, rotation: Math.PI / 2, scaleX: 1.03,
      style: { text: t, fontFamily: SERIF, fontSize: 22, fill: '#000', textAlign: 'center', textVerticalAlign: 'middle', align: 'center', verticalAlign: 'middle' },
    });
  });

  INFO_LINES.forEach((t, k) => {
    if (!t) return;
    graphics.push({
      type: 'text', x: 48, y: 31 + 39 * k, scaleX: 1.08,
      style: { text: t.replace(/ /g, '\u2002'), fontFamily: SERIF, fontSize: 30, fill: '#000', textAlign: 'left', textVerticalAlign: 'middle', align: 'left', verticalAlign: 'middle' },
    });
  });

  return {
    animation: false,
    backgroundColor: '#fff',
    grid: grids,
    xAxis: xAxes,
    yAxis: yAxes,
    series,
    graphic: { elements: graphics },
  };
}

export default function App() {
  const ref = useRef<HTMLDivElement>(null);
  useEffect(() => {
    if (!ref.current) return;
    const chart = echarts.init(ref.current, undefined, { renderer: 'svg' });
    chart.setOption(buildOption() as any);
    return () => chart.dispose();
  }, []);
  return <div ref={ref} style={{ position: 'absolute', left: 0, top: 0, width: 1569, height: 2069, background: '#fff' }} />;
}
